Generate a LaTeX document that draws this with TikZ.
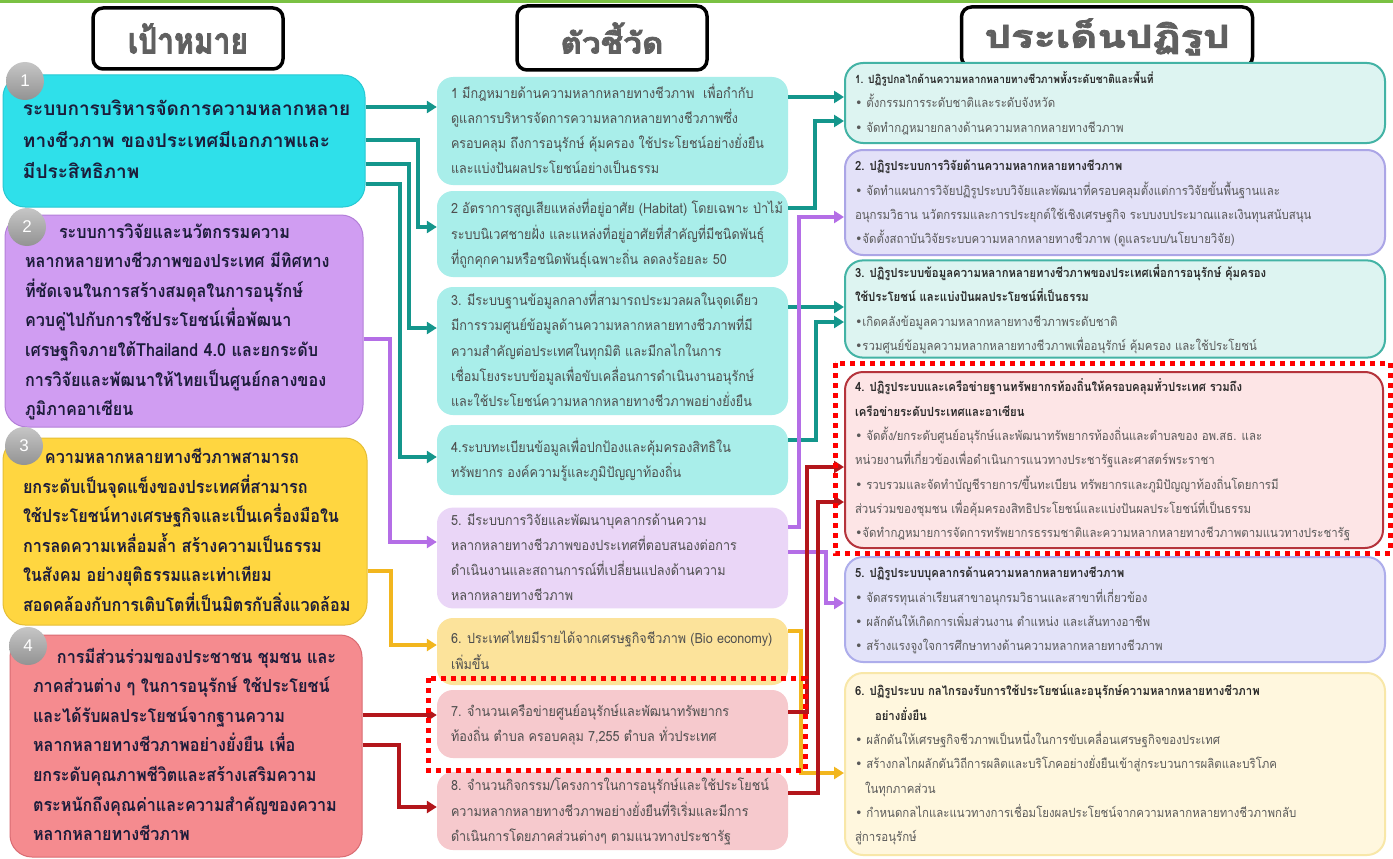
\documentclass[tikz,border=0pt]{standalone}
\usepackage{fontspec}
\usepackage{graphicx}
\usetikzlibrary{arrows.meta}
\newfontfamily\thfont[Script=Thai]{Loma}
\newfontfamily\thh[Script=Thai,FakeBold=2.5]{Loma}
\newfontfamily\thn[Script=Thai,FakeStretch=0.9]{Loma}
\newfontfamily\thc[Script=Thai,FakeStretch=0.9]{Loma}
\newfontfamily\bulfont{DejaVu Sans}
\newfontfamily\numfont{Liberation Sans}
\newcommand\bu{{\bulfont\char"2022}}
\newcommand\lines[2]{\makebox[#1][l]{\begin{tabular}{@{}l@{}}#2\end{tabular}}}
\definecolor{topgreen}{HTML}{7AC143}
\definecolor{hdrgray}{HTML}{606060}
\definecolor{goaltext}{HTML}{1C1C3A}
\definecolor{indtext}{HTML}{4E4E4E}
\definecolor{reftitle}{HTML}{2A2A2A}
\definecolor{reftext}{HTML}{5A5A5A}
\definecolor{tealc}{HTML}{14968C}
\definecolor{purc}{HTML}{B46EE6}
\definecolor{yelc}{HTML}{F2B61E}
\definecolor{redc}{HTML}{B3161B}
\definecolor{lA}{HTML}{2FE0EA}\definecolor{lAd}{HTML}{27C8D2}
\definecolor{lB}{HTML}{D09DF2}\definecolor{lBd}{HTML}{B37FD8}
\definecolor{lC}{HTML}{FFD640}\definecolor{lCd}{HTML}{E5BE35}
\definecolor{lD}{HTML}{F58B8F}\definecolor{lDd}{HTML}{D96B72}
\definecolor{mA}{HTML}{A9EEEA}
\definecolor{mB}{HTML}{EAD6F7}
\definecolor{mC}{HTML}{FCE39B}
\definecolor{mD}{HTML}{F6C9CD}
\definecolor{rA}{HTML}{DDF4F1}\definecolor{rAd}{HTML}{43B3A5}
\definecolor{rB}{HTML}{E3E1F8}\definecolor{rBd}{HTML}{ABA5E6}
\definecolor{rC}{HTML}{FDE5E6}\definecolor{rCd}{HTML}{B5343C}
\definecolor{rD}{HTML}{E3E3F9}\definecolor{rDd}{HTML}{ADADEB}
\definecolor{rE}{HTML}{FFF7DE}\definecolor{rEd}{HTML}{F8E7A8}
\tikzset{
  hdrbox/.style={draw=black, line width=3.5pt, rounded corners=10pt, fill=white, text=hdrgray, inner sep=0pt},
  goalbox/.style={rounded corners=22pt, line width=1pt, inner xsep=20pt, inner ysep=0pt,
    font=\thn\bfseries\fontsize{18}{29.6}\selectfont, text=goaltext},
  indbox/.style={rounded corners=16pt, inner xsep=14pt, inner ysep=0pt,
    font=\thc\fontsize{14}{25.2}\selectfont, text=indtext},
  refbox/.style={rounded corners=18pt, line width=2pt, inner xsep=10pt, inner ysep=0pt,
    font=\thc\fontsize{12.7}{24.3}\selectfont, text=reftext},
  badge/.style={circle, minimum size=38pt, inner sep=0pt, top color=gray!45, bottom color=gray!85,
    text=white, font=\numfont\fontsize{17}{17}\selectfont},
  conn/.style={line width=4pt, -{Triangle[width=12pt,length=10pt]}},
  hl/.style={draw=red, line width=5pt, dash pattern=on 5pt off 5pt}
}
\newcommand\rt[2][12.6]{{\fontsize{#1}{24.3}\selectfont\bfseries\color{reftitle}#2}}
\begin{document}
\begin{tikzpicture}[x=1pt,y=-1pt]
\fill[white] (0,0) rectangle (1393,859);
\useasboundingbox (0,0) rectangle (1393,859);
\fill[topgreen] (0,0) rectangle (1393,3);

% headers
\node[hdrbox, minimum width=190pt, minimum height=61pt] (h1) at (188,38.5)
  {\resizebox{120pt}{30pt}{\thh\bfseries เป้าหมาย}};
\node[hdrbox, minimum width=190pt, minimum height=64pt] (h2) at (612,38)
  {\resizebox{103pt}{31pt}{\thh\bfseries ตัวชี้วัด}};
\node[hdrbox, minimum width=291pt, minimum height=60pt] (h3) at (1107,37)
  {\resizebox{245pt}{29pt}{\thh\bfseries ประเด็นปฏิรูป}};

% goals
\node[goalbox, fill=lA, draw=lAd, minimum height=132pt, font=\thfont\bfseries\fontsize{19}{31.5}\selectfont] (l1) at (184,141)
  {\lines{322pt}{ระบบการบริหารจัดการความหลากหลาย\\ทางชีวภาพ ของประเทศมีเอกภาพและ\\มีประสิทธิภาพ}};
\node[goalbox, fill=lB, draw=lBd, minimum height=212pt] (l2) at (184,321)
  {\lines{318pt}{\hspace*{34pt}ระบบการวิจัยและนวัตกรรมความ\\หลากหลายทางชีวภาพของประเทศ มีทิศทาง\\ที่ชัดเจนในการสร้างสมดุลในการอนุรักษ์\\ควบคู่ไปกับการใช้ประโยชน์เพื่อพัฒนา\\เศรษฐกิจภายใต้Thailand 4.0 และยกระดับ\\การวิจัยและพัฒนาให้ไทยเป็นศูนย์กลางของ\\ภูมิภาคอาเซียน}};
\node[goalbox, fill=lC, draw=lCd, minimum height=187pt] (l3) at (185,531.5)
  {\lines{324pt}{\hspace*{22pt}ความหลากหลายทางชีวภาพสามารถ\\ยกระดับเป็นจุดแข็งของประเทศที่สามารถ\\ใช้ประโยชน์ทางเศรษฐกิจและเป็นเครื่องมือใน\\การลดความเหลื่อมล้ำ สร้างความเป็นธรรม\\ในสังคม อย่างยุติธรรมและเท่าเทียม\\สอดคล้องกับการเติบโตที่เป็นมิตรกับสิ่งแวดล้อม}};
\node[goalbox, fill=lD, draw=lDd, inner xsep=23pt, minimum height=222pt] (l4) at (186,746)
  {\lines{306pt}{\hspace*{24pt}การมีส่วนร่วมของประชาชน ชุมชน และ\\ภาคส่วนต่าง ๆ ในการอนุรักษ์ ใช้ประโยชน์\\และได้รับผลประโยชน์จากฐานความ\\หลากหลายทางชีวภาพอย่างยั่งยืน เพื่อ\\ยกระดับคุณภาพชีวิตและสร้างเสริมความ\\ตระหนักถึงคุณค่าและความสำคัญของความ\\หลากหลายทางชีวภาพ}};

\node[badge] (b1) at (25,81) {1};
\node[badge] (b2) at (27,227) {2};
\node[badge] (b3) at (24,446) {3};
\node[badge] (b4) at (28,646) {4};

% indicators
\node[indbox, fill=mA, minimum height=108pt] (m1) at (612.5,131)
  {\lines{323pt}{1 มีกฎหมายด้านความหลากหลายทางชีวภาพ\ \ เพื่อกำกับ\\ดูแลการบริหารจัดการความหลากหลายทางชีวภาพซึ่ง\\ครอบคลุม ถึงการอนุรักษ์ คุ้มครอง ใช้ประโยชน์อย่างยั่งยืน\\และแบ่งปันผลประโยชน์อย่างเป็นธรรม}};
\node[indbox, fill=mA, minimum height=86pt] (m2) at (612.5,234)
  {\lines{323pt}{2 อัตราการสูญเสียแหล่งที่อยู่อาศัย (Habitat) โดยเฉพาะ ป่าไม้\\ระบบนิเวศชายฝั่ง และแหล่งที่อยู่อาศัยที่สำคัญที่มีชนิดพันธุ์\\ที่ถูกคุกคามหรือชนิดพันธุ์เฉพาะถิ่น ลดลงร้อยละ 50}};
\node[indbox, fill=mA, minimum height=128pt] (m3) at (612.5,351)
  {\lines{323pt}{3. มีระบบฐานข้อมูลกลางที่สามารถประมวลผลในจุดเดียว\\มีการรวมศูนย์ข้อมูลด้านความหลากหลายทางชีวภาพที่มี\\ความสำคัญต่อประเทศในทุกมิติ และมีกลไกในการ\\เชื่อมโยงระบบข้อมูลเพื่อขับเคลื่อนการดำเนินงานอนุรักษ์\\และใช้ประโยชน์ความหลากหลายทางชีวภาพอย่างยั่งยืน}};
\node[indbox, fill=mA, minimum height=70pt] (m4) at (612.5,460)
  {\lines{323pt}{4.ระบบทะเบียนข้อมูลเพื่อปกป้องและคุ้มครองสิทธิใน\\ทรัพยากร องค์ความรู้และภูมิปัญญาท้องถิ่น}};
\node[indbox, fill=mB, minimum height=100pt] (m5) at (612.5,558)
  {\lines{323pt}{5. มีระบบการวิจัยและพัฒนาบุคลากรด้านความ\\หลากหลายทางชีวภาพของประเทศที่ตอบสนองต่อการ\\ดำเนินงานและสถานการณ์ที่เปลี่ยนแปลงด้านความ\\หลากหลายทางชีวภาพ}};
\node[indbox, fill=mC, minimum height=67pt] (m6) at (612.5,651.5)
  {\lines{323pt}{6. ประเทศไทยมีรายได้จากเศรษฐกิจชีวภาพ (Bio economy)\\เพิ่มขึ้น}};
\node[indbox, fill=mD, minimum height=68pt] (m7) at (612.5,724)
  {\lines{323pt}{7. จำนวนเครือข่ายศูนย์อนุรักษ์และพัฒนาทรัพยากร\\ท้องถิ่น ตำบล ครอบคลุม 7,255 ตำบล ทั่วประเทศ}};
\node[indbox, fill=mD, minimum height=78pt] (m8) at (612.5,811)
  {\lines{323pt}{8. จำนวนกิจกรรม/โครงการในการอนุรักษ์และใช้ประโยชน์\\ความหลากหลายทางชีวภาพอย่างยั่งยืนที่ริเริ่มและมีการ\\ดำเนินการโดยภาคส่วนต่างๆ ตามแนวทางประชารัฐ}};

% reform issues
\node[refbox, fill=rA, draw=rAd, minimum height=80pt] (r1) at (1115,103)
  {\lines{520pt}{\rt[11.3]{1. ปฏิรูปกลไกด้านความหลากหลายทางชีวภาพทั้งระดับชาติและพื้นที่}\\\bu\ ตั้งกรรมการระดับชาติและระดับจังหวัด\\\bu\ จัดทำกฎหมายกลางด้านความหลากหลายทางชีวภาพ}};
\node[refbox, fill=rB, draw=rBd, minimum height=105pt] (r2) at (1115,202.5)
  {\lines{520pt}{\rt{2. ปฏิรูประบบการวิจัยด้านความหลากหลายทางชีวภาพ}\\\bu\ จัดทำแผนการวิจัยปฏิรูประบบวิจัยและพัฒนาที่ครอบคลุมตั้งแต่การวิจัยขั้นพื้นฐานและ\\อนุกรมวิธาน นวัตกรรมและการประยุกต์ใช้เชิงเศรษฐกิจ ระบบงบประมาณและเงินทุนสนับสนุน\\\bu จัดตั้งสถาบันวิจัยระบบความหลากหลายทางชีวภาพ (ดูแลระบบ/นโยบายวิจัย)}};
\node[refbox, fill=rA, draw=rAd, minimum height=94pt] (r3) at (1115,309)
  {\lines{520pt}{\rt{3. ปฏิรูประบบข้อมูลความหลากหลายทางชีวภาพของประเทศเพื่อการอนุรักษ์ คุ้มครอง}\\\rt{ใช้ประโยชน์ และแบ่งปันผลประโยชน์ที่เป็นธรรม}\\\bu เกิดคลังข้อมูลความหลากหลายทางชีวภาพระดับชาติ\\\bu รวมศูนย์ข้อมูลความหลากหลายทางชีวภาพเพื่ออนุรักษ์ คุ้มครอง และใช้ประโยชน์}};
\node[refbox, fill=rC, draw=rCd, minimum height=176pt] (r4) at (1114,460)
  {\lines{518pt}{\rt{4. ปฏิรูประบบและเครือข่ายฐานทรัพยากรท้องถิ่นให้ครอบคลุมทั่วประเทศ รวมถึง}\\\rt{เครือข่ายระดับประเทศและอาเซียน}\\\bu\ จัดตั้ง/ยกระดับศูนย์อนุรักษ์และพัฒนาทรัพยากรท้องถิ่นและตำบลของ อพ.สธ. และ\\หน่วยงานที่เกี่ยวข้องเพื่อดำเนินการแนวทางประชารัฐและศาสตร์พระราชา\\\bu\ รวบรวมและจัดทำบัญชีรายการ/ขึ้นทะเบียน ทรัพยากรและภูมิปัญญาท้องถิ่นโดยการมี\\ส่วนร่วมของชุมชน เพื่อคุ้มครองสิทธิประโยชน์และแบ่งปันผลประโยชน์ที่เป็นธรรม\\\bu จัดทำกฎหมายการจัดการทรัพยากรธรรมชาติและความหลากหลายทางชีวภาพตามแนวทางประชารัฐ}};
\node[refbox, fill=rD, draw=rDd, minimum height=105pt] (r5) at (1115,609.5)
  {\lines{520pt}{\rt{5. ปฏิรูประบบบุคลากรด้านความหลากหลายทางชีวภาพ}\\\bu\ จัดสรรทุนเล่าเรียนสาขาอนุกรมวิธานและสาขาที่เกี่ยวข้อง\\\bu\ ผลักดันให้เกิดการเพิ่มส่วนงาน ตำแหน่ง และเส้นทางอาชีพ\\\bu\ สร้างแรงจูงใจการศึกษาทางด้านความหลากหลายทางชีวภาพ}};
\node[refbox, fill=rE, draw=rEd, minimum height=182pt] (r6) at (1115,764)
  {\lines{520pt}{\rt{6. ปฏิรูประบบ กลไกรองรับการใช้ประโยชน์และอนุรักษ์ความหลากหลายทางชีวภาพ}\\\hspace*{20pt}\rt{อย่างยั่งยืน}\\\bu\ ผลักดันให้เศรษฐกิจชีวภาพเป็นหนึ่งในการขับเคลื่อนเศรษฐกิจของประเทศ\\\bu\ สร้างกลไกผลักดันวิถีการผลิตและบริโภคอย่างยั่งยืนเข้าสู่กระบวนการผลิตและบริโภค\\\hspace*{10pt}ในทุกภาคส่วน\\\bu\ กำหนดกลไกและแนวทางการเชื่อมโยงผลประโยชน์จากความหลากหลายทางชีวภาพกลับ\\สู่การอนุรักษ์}};

% connectors goals -> indicators
\draw[conn,tealc] (l1.east |- 0,107) -- (m1.west |- 0,107);
\draw[conn,tealc] (l1.east |- 0,140) -- (418,140) -- (418,227) -- (m2.west |- 0,227);
\draw[conn,tealc] (l1.east |- 0,164) -- (409,164) -- (409,328) -- (m3.west |- 0,328);
\draw[conn,tealc] (l1.east |- 0,184) -- (400,184) -- (400,457) -- (m4.west |- 0,457);
\draw[conn,purc] (l2.east |- 0,339) -- (390,339) -- (390,542) -- (m5.west |- 0,542);
\draw[conn,yelc] (l3.east |- 0,571) -- (391,571) -- (391,645) -- (m6.west |- 0,645);
\draw[conn,redc] (l4.east |- 0,715) -- (m7.west |- 0,715);
\draw[conn,redc] (l4.east |- 0,745) -- (399,745) -- (399,807) -- (m8.west |- 0,807);

% connectors indicators -> reforms
\draw[conn,tealc] (m1.east |- 0,97) -- (r1.west |- 0,97);
\draw[conn,tealc] (m2.east |- 0,208) -- (815,208) -- (815,121) -- (r1.west |- 0,121);
\draw[conn,tealc] (m3.east |- 0,307) -- (r3.west |- 0,307);
\draw[conn,tealc] (m4.east |- 0,440) -- (816,440) -- (816,322) -- (r3.west |- 0,322);
\draw[conn,purc] (m5.east |- 0,527) -- (799,527) -- (799,217) -- (r2.west |- 0,217);
\draw[conn,purc] (m5.east |- 0,552) -- (826,552) -- (826,603) -- (r5.west |- 0,603);
\draw[conn,yelc] (m6.east |- 0,631) -- (801,631) -- (801,773) -- (r6.west |- 0,773);
\draw[conn,redc] (m7.east |- 0,712) -- (807,712) -- (807,467) -- (r4.west |- 0,467);
\draw[conn,redc] (m8.east |- 0,793) -- (818,793) -- (818,502) -- (r4.west |- 0,502);

% highlight frames
\draw[hl] (428,678) rectangle (805,770);
\draw[hl] (835,363) rectangle (1390,553);
\end{tikzpicture}
\end{document}
